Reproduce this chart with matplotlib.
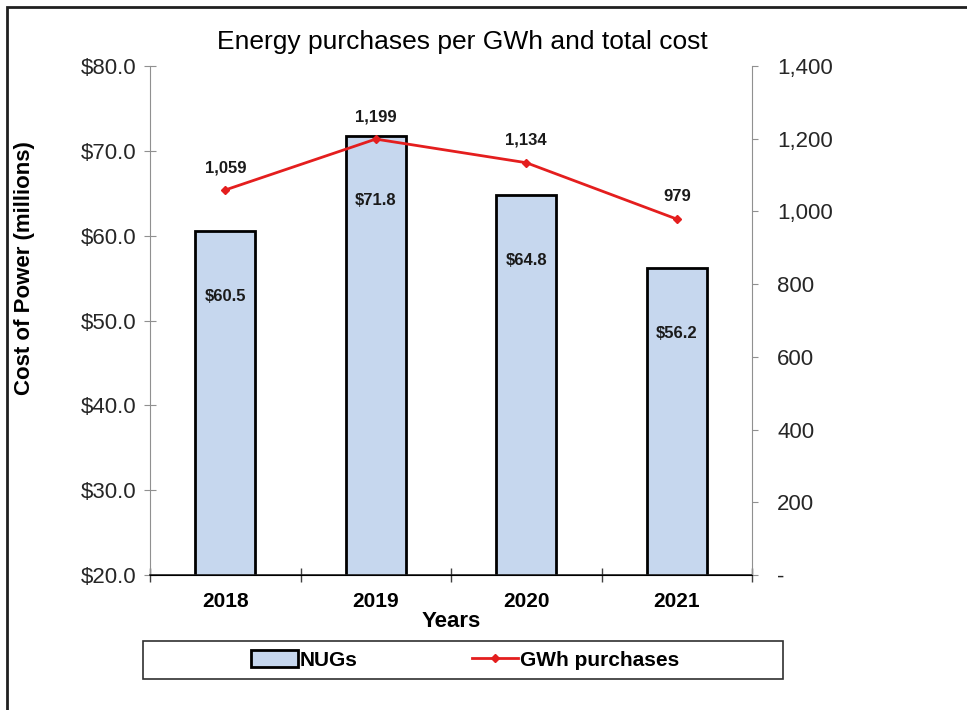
import numpy as np
import matplotlib.pyplot as plt
from matplotlib.patches import Rectangle
from matplotlib.ticker import FuncFormatter

plt.rcParams['font.family'] = ['Liberation Sans', 'DejaVu Sans']

years = ['2018', '2019', '2020', '2021']
cost = [60.5, 71.8, 64.8, 56.2]        # $ millions (bars, left axis)
gwh = [1059, 1199, 1134, 979]          # GWh purchased (line, right axis)

W, H = 967, 710
fig = plt.figure(figsize=(W / 100, H / 100), dpi=100)
ax = fig.add_axes([150 / W, 1 - 575 / H, 602 / W, 509 / H])
ax2 = ax.twinx()

x = np.arange(len(years))
bars = ax.bar(x, cost, width=0.4, color='#c6d7ee', edgecolor='black',
              linewidth=2, label='NUGs', zorder=2)
ax.set_xlim(-0.5, len(years) - 0.5)
ax.set_ylim(20, 80)
ax.set_yticks(np.arange(20, 81, 10))
ax.yaxis.set_major_formatter(FuncFormatter(lambda v, p: f'${v:.1f}'))

for xi, v in zip(x, cost):
    ax.annotate(f'${v:.1f}', (xi, v), xytext=(0, -47), textcoords='offset points',
                ha='center', va='center', fontsize=12, fontweight='bold',
                color='#1a1a1a')

line, = ax2.plot(x, gwh, color='#e41e1e', linewidth=2, marker='D',
                 markersize=4, label='GWh purchases', zorder=3)
ax2.set_ylim(0, 1400)
ax2.set_yticks(np.arange(0, 1401, 200))
ax2.yaxis.set_major_formatter(
    FuncFormatter(lambda v, p: '-' if v == 0 else f'{v:,.0f}'))
for xi, v in zip(x, gwh):
    ax2.annotate(f'{v:,}', (xi, v), xytext=(0, 16), textcoords='offset points',
                 ha='center', va='center', fontsize=12, fontweight='bold',
                 color='#1a1a1a')

# category ticks sit between the years, labels in the middle
ax.set_xticks(np.arange(-0.5, len(years)), minor=False)
ax.set_xticklabels([''] * (len(years) + 1))
ax.set_xticks(x, minor=True)
ax.set_xticklabels(years, minor=True, fontsize=15, fontweight='bold')
ax.tick_params(axis='x', which='major', direction='inout', length=10,
               width=1, color='#404040')
ax.tick_params(axis='x', which='minor', length=0, pad=12)

for a in (ax, ax2):
    a.spines['top'].set_visible(False)
for s in ('left', 'right'):
    ax2.spines[s].set_color('#909090')
ax.spines['left'].set_color('#909090')
ax.spines['right'].set_visible(False)
ax2.spines['left'].set_visible(False)
ax.spines['bottom'].set_color('#202020')
ax.spines['bottom'].set_linewidth(1.2)

ax.tick_params(axis='y', direction='inout', length=8, color='#909090',
               labelsize=16, labelcolor='#262626', pad=6)
ax2.tick_params(axis='y', direction='out', length=4, color='#909090',
                labelsize=16, labelcolor='#262626', pad=14)

ax.set_xlabel('Years', fontsize=16, fontweight='bold', labelpad=0)
fig.text(25 / W, 1 - 268 / H, 'Cost of Power (millions)', rotation=90,
         ha='center', va='center', fontsize=16, fontweight='bold')
fig.text(462 / W, 1 - 42 / H, 'Energy purchases per GWh and total cost',
         ha='center', va='center', fontsize=19)

# legend box across the bottom, entries without their own frame
fig.patches.append(Rectangle((143 / W, 1 - 679 / H), 640 / W, 38 / H,
                             transform=fig.transFigure, fill=False,
                             edgecolor='#303030', linewidth=1.2))
fig.legend([bars, line], ['NUGs', 'GWh purchases'], ncol=2,
           loc='center', bbox_to_anchor=(465 / W, 1 - 660 / H),
           frameon=False, prop={'weight': 'bold', 'size': 15},
           handlelength=2.25, handleheight=0.9, handletextpad=0.05,
           columnspacing=5.5)

fig.patches.append(Rectangle((7 / W, -0.1), 1.1, 1 - 7 / H + 0.1,
                             transform=fig.transFigure, fill=False,
                             edgecolor='#202020', linewidth=2))

fig.savefig('out.png', dpi=100)
